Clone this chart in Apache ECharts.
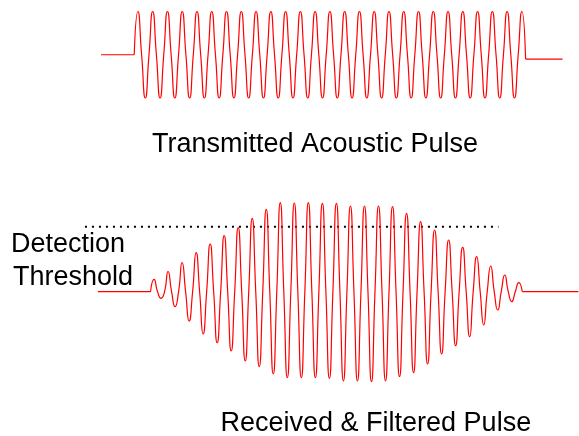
<!DOCTYPE html>
<html><head><meta charset="utf-8">
<script src="https://cdn.jsdelivr.net/npm/echarts@6/dist/echarts.min.js"></script>
<style>html,body{margin:0;padding:0;background:#fff}#c{width:579px;height:436px}</style>
</head><body><div id="c"></div>
<script>
// Transmitted pulse: successive extremes (peak, trough, ...) in relative amplitude
const txExtremes = [1,-1,1,-1,1,-1,1,-1,1,-1,1,-1,1,-1,1,-1,1,-1,1,-1,1,-1,1,-1,1,-1,
                    1,-1,1,-1,1,-1,1,-1,1,-1,1,-1,1,-1,1,-1,1,-1,1,-1,1,-1,1,-1,1,-1,1];
const txLeadStart = -9;     // sample (quarter-cycle) index where the idle line starts
const txTailEnd = 116;      // sample index where the idle line ends
const txTailLevel = -0.1;   // idle level after the burst

// Received & filtered pulse: successive extremes (peak, trough, ...)
const rxExtremes = [12.4,-6.6,20.2,-15,29.2,-29.3,39,-42.3,47.7,-51,56,-59.3,64,-69.3,73.4,-75,
                    82.4,-82.3,89,-86,88.7,-86,89,-86,88.4,-86.6,88.4,-89.3,85.7,-89.3,85.7,-90,
                    85.7,-89.3,85,-85,78.4,-81,70,-72.3,61.7,-62.3,51.7,-54,44.4,-45,35,-33.3,
                    25.7,-18.3,16.7,-10,9];
const rxLeadStart = -15;
const rxTailEnd = 122;
const rxTailLevel = 0;

// Detection threshold
const thresholdLevel = 65;
const thresholdFrom = -18.7;
const thresholdTo = 99.2;

const labels = ['Transmitted Acoustic Pulse', 'Received & Filtered Pulse', 'Detection', 'Threshold'];

function waveData(ext, tail) {
  const d = [[0, 0]];
  ext.forEach((v, i) => {
    d.push([2 * i + 1, v]);
    d.push([2 * i + 2, i === ext.length - 1 ? tail : 0]);
  });
  return d;
}
const txWave = waveData(txExtremes, txTailLevel);
const rxWave = waveData(rxExtremes, rxTailLevel);
const txEndIdx = txWave[txWave.length - 1][0];
const rxEndIdx = rxWave[rxWave.length - 1][0];

const RED = '#ff0000';
const LW = 1.2;
const FONT = '"Liberation Sans", Arial, sans-serif';
const chart = echarts.init(document.getElementById('c'));
chart.setOption({
  animation: false,
  backgroundColor: '#ffffff',
  grid: [
    { left: 101, width: 461.5, top: 11.5, height: 86.5 },
    { left: 83.9, width: 494.5, top: 191.7, height: 200 }
  ],
  xAxis: [
    { type: 'value', gridIndex: 0, min: -9, max: 116, show: false },
    { type: 'value', gridIndex: 1, min: -19, max: 122, show: false }
  ],
  yAxis: [
    { type: 'value', gridIndex: 0, min: -1, max: 1, show: false },
    { type: 'value', gridIndex: 1, min: -100, max: 100, show: false }
  ],
  series: [
    { type: 'line', xAxisIndex: 0, yAxisIndex: 0, data: [[txLeadStart, 0], [0, 0]],
      symbol: 'none', clip: false, lineStyle: { color: RED, width: LW } },
    { type: 'line', xAxisIndex: 0, yAxisIndex: 0, data: txWave, smooth: 0.6,
      symbol: 'none', clip: false, lineStyle: { color: RED, width: LW } },
    { type: 'line', xAxisIndex: 0, yAxisIndex: 0, data: [[txEndIdx, txTailLevel], [txTailEnd, txTailLevel]],
      symbol: 'none', clip: false, lineStyle: { color: RED, width: LW } },
    { type: 'line', xAxisIndex: 1, yAxisIndex: 1, data: [[rxLeadStart, 0], [0, 0]],
      symbol: 'none', clip: false, lineStyle: { color: RED, width: LW } },
    { type: 'line', xAxisIndex: 1, yAxisIndex: 1, data: rxWave, smooth: 0.6,
      symbol: 'none', clip: false, lineStyle: { color: RED, width: LW } },
    { type: 'line', xAxisIndex: 1, yAxisIndex: 1, data: [[rxEndIdx, rxTailLevel], [rxTailEnd, rxTailLevel]],
      symbol: 'none', clip: false, lineStyle: { color: RED, width: LW } },
    { type: 'line', xAxisIndex: 1, yAxisIndex: 1,
      data: [[thresholdFrom, thresholdLevel], [thresholdTo, thresholdLevel]],
      symbol: 'none', clip: false, z: 1,
      lineStyle: { color: '#000000', width: 2, type: [2, 5], cap: 'butt' } }
  ],
  graphic: [
    { type: 'text', x: 152, y: 145, style: { text: labels[0], font: '27px ' + FONT, fill: '#000', textAlign: 'left', verticalAlign: 'middle' } },
    { type: 'text', x: 220.5, y: 423.5, style: { text: labels[1], font: '27px ' + FONT, fill: '#000', textAlign: 'left', verticalAlign: 'middle' } },
    { type: 'text', x: 11, y: 245, style: { text: labels[2], font: '27px ' + FONT, fill: '#000', textAlign: 'left', verticalAlign: 'middle' } },
    { type: 'text', x: 13, y: 278, style: { text: labels[3], font: '27px ' + FONT, fill: '#000', textAlign: 'left', verticalAlign: 'middle' } }
  ]
});
</script>
</body></html>
